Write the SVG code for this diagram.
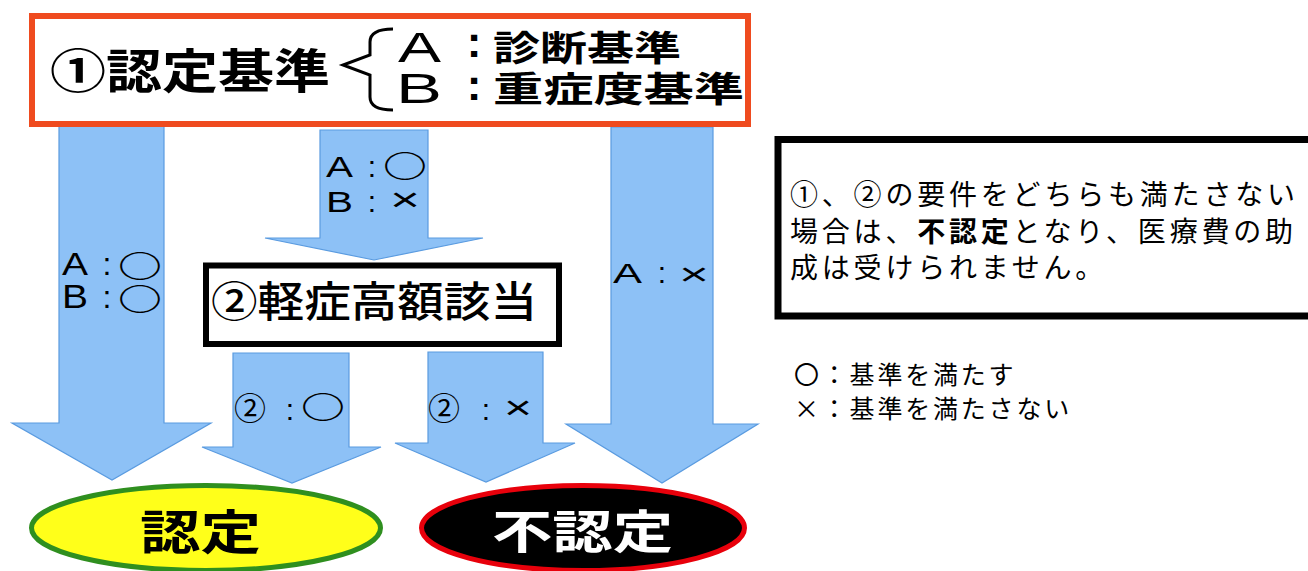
<svg xmlns="http://www.w3.org/2000/svg" width="1308" height="571" viewBox="0 0 1308 571">
<style>
.jp{font-family:"Noto Sans CJK JP","Noto Sans CJK SC",sans-serif;}
.lat{font-family:"Liberation Sans",Arial,sans-serif;}
.arrow{fill:#8DC1F6;stroke:#5A9BE0;stroke-width:1.2;}
.lbl{fill:#000;}
.circ{font-weight:bold;}
.note{font-size:28px;letter-spacing:3.8px;fill:#000;}
.legend{font-size:25px;letter-spacing:2.8px;fill:#000;}
</style>
<rect width="1308" height="571" fill="#fff"/>
<g id="connectors">
  <polygon class="arrow" points="59,124 164,124 164,423 211,423 112,480 12,423 59,423"/>
  <polygon class="arrow" points="320,130 428,130 428,238 483,238 374,260 265,238 320,238"/>
  <polygon class="arrow" points="233,353 349,353 349,447 381,447 292,483 202,447 233,447"/>
  <polygon class="arrow" points="428,352 543,352 543,443 575,443 486,482 395,443 428,443"/>
  <polygon class="arrow" points="611,127 713,127 713,424 758,424 662,483 566,424 611,424"/>
  <g id="label-ab-ok">
    <text class="lat lbl" x="62" y="275" font-size="32" textLength="26" lengthAdjust="spacingAndGlyphs">A</text>
    <text class="lat lbl" x="107" y="275" font-size="32" text-anchor="middle">:</text>
    <text class="jp lbl circ" x="118" y="277" font-size="30" textLength="44" lengthAdjust="spacingAndGlyphs">○</text>
    <text class="lat lbl" x="62" y="308" font-size="33" textLength="26" lengthAdjust="spacingAndGlyphs">B</text>
    <text class="lat lbl" x="107" y="308" font-size="32" text-anchor="middle">:</text>
    <text class="jp lbl circ" x="118" y="310" font-size="30" textLength="44" lengthAdjust="spacingAndGlyphs">○</text>
  </g>
  <g id="label-a-ok-b-ng">
    <text class="lat lbl" x="326" y="177" font-size="29" textLength="27" lengthAdjust="spacingAndGlyphs">A</text>
    <text class="lat lbl" x="372" y="177" font-size="30" text-anchor="middle">:</text>
    <text class="jp lbl circ" x="383" y="177" font-size="30" textLength="44" lengthAdjust="spacingAndGlyphs">○</text>
    <text class="lat lbl" x="326" y="212" font-size="29" textLength="27" lengthAdjust="spacingAndGlyphs">B</text>
    <text class="lat lbl" x="372" y="212" font-size="30" text-anchor="middle">:</text>
    <text class="lat lbl" x="390" y="211" font-size="34" textLength="30" lengthAdjust="spacingAndGlyphs">×</text>
  </g>
  <g id="label-2-ok">
    <text class="jp lbl" x="234" y="420" font-size="32">②</text>
    <text class="lat lbl" x="290" y="420" font-size="30" text-anchor="middle">:</text>
    <text class="jp lbl circ" x="301" y="418" font-size="30" textLength="44" lengthAdjust="spacingAndGlyphs">○</text>
  </g>
  <g id="label-2-ng">
    <text class="jp lbl" x="428" y="420" font-size="32">②</text>
    <text class="lat lbl" x="486" y="420" font-size="30" text-anchor="middle">:</text>
    <text class="lat lbl" x="504" y="419" font-size="34" textLength="28" lengthAdjust="spacingAndGlyphs">×</text>
  </g>
  <g id="label-a-ng">
    <text class="lat lbl" x="613" y="283" font-size="28" textLength="29" lengthAdjust="spacingAndGlyphs">A</text>
    <text class="lat lbl" x="662" y="283" font-size="30" text-anchor="middle">:</text>
    <text class="lat lbl" x="679" y="285" font-size="32" textLength="30" lengthAdjust="spacingAndGlyphs">×</text>
  </g>
</g>
<g id="node-criteria">
  <rect x="32" y="16" width="716" height="108" fill="#fff" stroke="#EF4B1F" stroke-width="6"/>
  <text class="jp" x="50" y="88" font-size="47" font-weight="bold" textLength="280" lengthAdjust="spacingAndGlyphs">①認定基準</text>
  <path d="M393,29 Q370,29 370,42 L370,55 L343,65 L370,75 L370,97 Q370,110 393,110" fill="none" stroke="#000" stroke-width="3"/>
  <text class="lat" x="398" y="62" font-size="42" textLength="43" lengthAdjust="spacingAndGlyphs">A</text>
  <text class="lat" x="474" y="57" font-size="44" font-weight="bold" text-anchor="middle">:</text>
  <text class="jp" x="493" y="61" font-size="35" font-weight="bold" textLength="188" lengthAdjust="spacingAndGlyphs">診断基準</text>
  <text class="lat" x="396" y="103" font-size="43" textLength="46" lengthAdjust="spacingAndGlyphs">B</text>
  <text class="lat" x="474" y="100" font-size="44" font-weight="bold" text-anchor="middle">:</text>
  <text class="jp" x="493" y="102" font-size="35" font-weight="bold" textLength="251" lengthAdjust="spacingAndGlyphs">重症度基準</text>
</g>
<g id="node-mild">
  <rect x="206" y="265.5" width="353" height="78.5" fill="#fff" stroke="#000" stroke-width="6"/>
  <text class="jp" x="211" y="317" font-size="42" font-weight="500" textLength="326" lengthAdjust="spacingAndGlyphs">②軽症高額該当</text>
</g>
<g id="node-nintei">
  <ellipse cx="206" cy="528" rx="174.5" ry="42.5" fill="#FFFF1A" stroke="#2F8F1F" stroke-width="5"/>
  <text class="jp" x="140" y="549" font-size="47" font-weight="bold" textLength="121" lengthAdjust="spacingAndGlyphs">認定</text>
</g>
<g id="node-funintei">
  <ellipse cx="583" cy="528" rx="161.5" ry="42.5" fill="#000" stroke="#E8000B" stroke-width="5"/>
  <text class="jp" x="492" y="548" font-size="46" font-weight="bold" fill="#fff" textLength="181" lengthAdjust="spacingAndGlyphs">不認定</text>
</g>
<g id="node-note">
  <rect x="778" y="139.5" width="545" height="176.5" fill="#fff" stroke="#000" stroke-width="7"/>
  <text class="jp note" x="790" y="205">①、②の要件をどちらも満たさない</text>
  <text class="jp note" x="790" y="242">場合は、<tspan font-weight="bold">不認定</tspan>となり、医療費の助</text>
  <text class="jp note" x="790" y="278">成は受けられません。</text>
</g>
<g id="legend">
  <text class="jp legend" x="794" y="384">〇：基準を満たす</text>
  <text class="jp legend" x="794" y="418">×：基準を満たさない</text>
</g>
</svg>
